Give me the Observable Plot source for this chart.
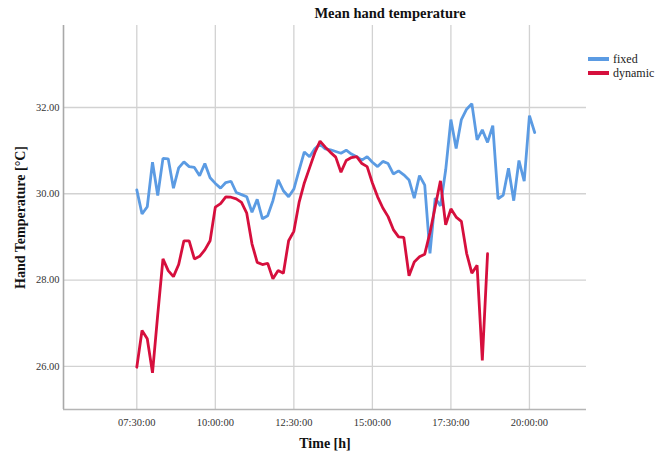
<!DOCTYPE html>
<html>
<head>
<meta charset="utf-8">
<script src="https://cdn.jsdelivr.net/npm/d3@7"></script>
<script src="https://cdn.jsdelivr.net/npm/@observablehq/plot@0.6"></script>
<style>
  html, body { margin: 0; padding: 0; background: #fff; }
  body { width: 656px; height: 457px; position: relative; overflow: hidden; font-family: "Liberation Serif", "DejaVu Serif", serif; }
  #chart { position: absolute; left: 0; top: 0; }
  #title { position: absolute; left: 290px; width: 200px; top: 5px; text-align: center; font-weight: bold; font-size: 14.5px; color: #111; }
  #legend { position: absolute; left: 588px; top: 52px; font-size: 12px; color: #222; line-height: 14px; }
  #legend .item { display: flex; align-items: center; white-space: nowrap; }
  #legend .sw { display: inline-block; width: 21px; height: 3.5px; margin-right: 4px; }
  g[aria-label="y-axis label"] text, g[aria-label="x-axis label"] text { font-weight: bold; font-size: 14px; fill: #111; }
</style>
</head>
<body>
<div id="chart"></div>
<div id="title">Mean hand temperature</div>
<div id="legend"></div>
<script>
// ---- data ----
const times = [
  "07:30","07:40","07:50","08:00","08:10","08:20","08:30","08:40","08:50","09:00",
  "09:10","09:20","09:30","09:40","09:50","10:00","10:10","10:20","10:30","10:40",
  "10:50","11:00","11:10","11:20","11:30","11:40","11:50","12:00","12:10","12:20",
  "12:30","12:40","12:50","13:00","13:10","13:20","13:30","13:40","13:50","14:00",
  "14:10","14:20","14:30","14:40","14:50","15:00","15:10","15:20","15:30","15:40",
  "15:50","16:00","16:10","16:20","16:30","16:40","16:50","17:00","17:10","17:20",
  "17:30","17:40","17:50","18:00","18:10","18:20","18:30","18:40","18:50","19:00",
  "19:10","19:20","19:30","19:40","19:50","20:00","20:10"
];
const fixedTemp = [
  30.09, 29.53, 29.70, 30.73, 29.96, 30.82, 30.81, 30.13, 30.60, 30.74,
  30.63, 30.61, 30.42, 30.70, 30.37, 30.24, 30.13, 30.26, 30.29, 30.03,
  29.98, 29.93, 29.57, 29.87, 29.42, 29.49, 29.84, 30.32, 30.07, 29.93,
  30.11, 30.55, 30.97, 30.86, 31.04, 31.15, 31.04, 31.02, 30.98, 30.94,
  31.01, 30.92, 30.86, 30.78, 30.86, 30.73, 30.63, 30.75, 30.70, 30.46,
  30.53, 30.44, 30.32, 29.90, 30.42, 30.20, 28.62, 29.90, 29.72, 30.55,
  31.72, 31.05, 31.72, 31.96, 32.09, 31.25, 31.48, 31.19, 31.58, 29.88,
  29.97, 30.59, 29.84, 30.77, 30.29, 31.81, 31.42
];
const dynamicTemp = [
  25.98, 26.83, 26.64, 25.85, 27.20, 28.49, 28.22, 28.08, 28.36, 28.91,
  28.91, 28.49, 28.55, 28.70, 28.91, 29.69, 29.77, 29.93, 29.92, 29.88,
  29.80, 29.55, 28.84, 28.41, 28.36, 28.39, 28.03, 28.22, 28.16, 28.91,
  29.13, 29.80, 30.25, 30.60, 30.95, 31.22, 31.08, 30.96, 30.85, 30.50,
  30.77, 30.84, 30.86, 30.70, 30.63, 30.25, 29.93, 29.67, 29.47, 29.17,
  29.00, 28.99, 28.10, 28.42, 28.54, 28.60, 29.10, 29.70, 30.30, 29.28,
  29.65, 29.46, 29.36, 28.62, 28.16, 28.34, 26.14, 28.61
];
const seriesNames = ["fixed", "dynamic"];
const seriesColors = ["#5b9be3", "#d60f3d"];
const xTickLabels = ["07:30","10:00","12:30","15:00","17:30","20:00"];
const yTicks = [26, 28, 30, 32];
const xDomainLabels = ["05:10", "21:49"];
const yDomain = [25.0, 33.9];

// ---- build ----
const toDate = s => { const [h, m] = s.split(":").map(Number); return new Date(Date.UTC(2000, 0, 1, h, m)); };
const rows = [];
fixedTemp.forEach((v, i) => rows.push({ time: toDate(times[i]), temp: v, group: seriesNames[0] }));
dynamicTemp.forEach((v, i) => rows.push({ time: toDate(times[i]), temp: v, group: seriesNames[1] }));
const xTicks = xTickLabels.map(toDate);
const xDomain = xDomainLabels.map(toDate);
const fmt = d3.utcFormat("%H:%M:%S");

const chart = Plot.plot({
  width: 656,
  height: 457,
  marginLeft: 63,
  marginRight: 70,
  marginTop: 25,
  marginBottom: 48,
  style: { fontFamily: "'Liberation Serif', 'DejaVu Serif', serif", background: "#fff" },
  x: { type: "utc", domain: xDomain },
  y: { domain: yDomain },
  color: { domain: seriesNames, range: seriesColors },
  marks: [
    Plot.gridY(yTicks, { stroke: "#d2d2d2", strokeOpacity: 1, strokeWidth: 1.3 }),
    Plot.gridX(xTicks, { stroke: "#d2d2d2", strokeOpacity: 1, strokeWidth: 1.3 }),
    Plot.ruleX([xDomain[0]], { stroke: "#a9a9a9", strokeWidth: 1.6 }),
    Plot.ruleY([yDomain[0]], { stroke: "#b5b5b5", strokeWidth: 1.6 }),
    Plot.axisY(yTicks, { tickSize: 0, tickPadding: 4, tickFormat: d => d.toFixed(2), fontSize: 10.5, fill: "#333",
      label: "Hand Temperature [°C]", labelAnchor: "center", labelOffset: 48, labelArrow: "none" }),
    Plot.axisX(xTicks, { tickSize: 0, tickPadding: 9, tickFormat: fmt, fontSize: 10.5, fill: "#333",
      label: "Time [h]", labelAnchor: "center", labelOffset: 38, labelArrow: "none" }),
    Plot.line(rows, { x: "time", y: "temp", z: "group", stroke: "group", strokeWidth: 2.8, strokeLinejoin: "miter", curve: "linear" })
  ]
});
document.getElementById("chart").appendChild(chart);

// legend
const lg = document.getElementById("legend");
seriesNames.forEach((n, i) => {
  const it = document.createElement("div");
  it.className = "item";
  it.innerHTML = `<span class="sw" style="background:${seriesColors[i]}"></span><span>${n}</span>`;
  lg.appendChild(it);
});
</script>
</body>
</html>
